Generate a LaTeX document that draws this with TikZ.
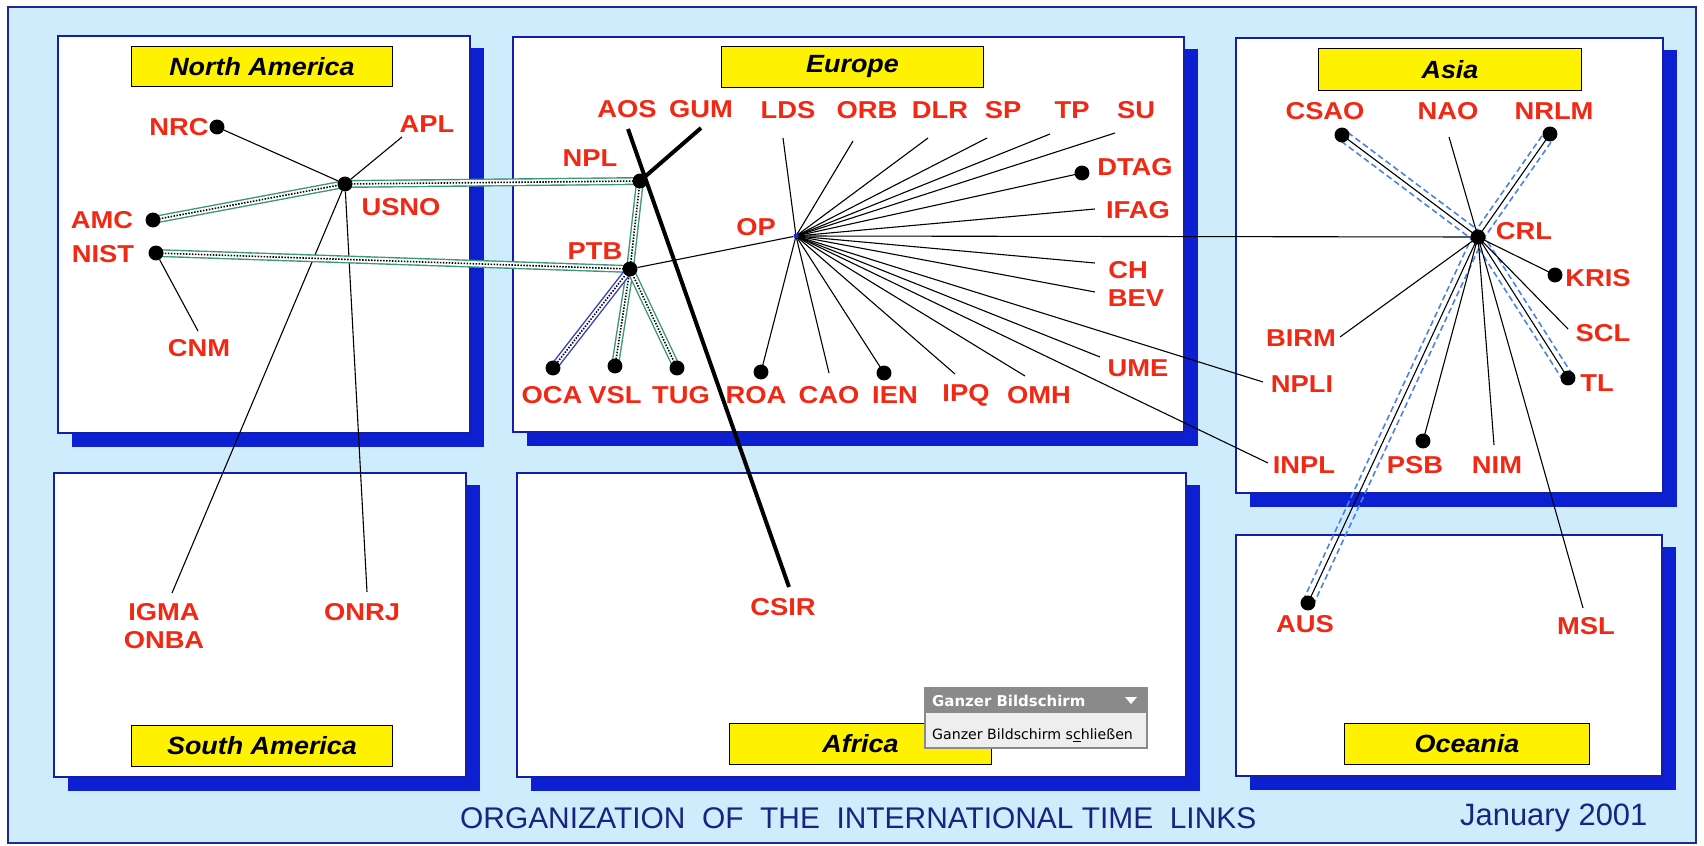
\documentclass[tikz,border=0pt]{standalone}
\usepackage{fontspec}
\setmainfont{Liberation Sans}
\newfontfamily\labf[FakeStretch=1.12]{Liberation Sans}
\newfontfamily\regf[FakeStretch=1.08]{Liberation Sans}
\newfontfamily\popf{DejaVu Sans}
\usetikzlibrary{calc}
\pgfdeclarelayer{boxes}
\pgfdeclarelayer{links}
\pgfdeclarelayer{top}
\pgfsetlayers{boxes,links,main,top}
\definecolor{bglight}{RGB}{207,236,252}
\definecolor{framecol}{RGB}{30,40,150}
\definecolor{boxblue}{RGB}{20,30,170}
\definecolor{shadowblue}{RGB}{12,32,210}
\definecolor{labred}{RGB}{240,40,20}
\definecolor{linkgreen}{RGB}{60,150,120}
\definecolor{linkblue}{RGB}{50,60,200}
\definecolor{dashblue}{RGB}{80,130,230}
\definecolor{titleblue}{RGB}{25,35,130}
\definecolor{opblue}{RGB}{20,40,230}
\definecolor{popgray}{RGB}{138,138,138}
\definecolor{popbody}{RGB}{238,238,238}
\newcommand\regionbox[4]{%
  \fill[shadowblue] (#1+14,#2+12) rectangle (#3+14,#4+14);
  \draw[box] (#1,#2) rectangle (#3,#4);}
\tikzset{
  box/.style={fill=white, draw=boxblue, line width=2.2pt},
  region/.style={fill=yellow, draw=black, line width=1pt, inner sep=0pt,
    font=\regf\bfseries\itshape\fontsize{25}{27}\selectfont},
  lab/.style={text=labred, inner sep=0pt, align=center,
    font=\labf\bfseries\fontsize{24.5}{28}\selectfont},
  dot/.style={circle, fill=black, inner sep=0pt, minimum size=15pt},
  thinlink/.style={draw=black, line width=1.1pt},
  thicklink/.style={draw=black, line width=4pt},
  glink/.style={draw=linkgreen, line width=1.4pt, double=white, double distance=5.2pt},
  blink/.style={draw=linkblue, line width=1.4pt, double=white, double distance=5.2pt},
  dotline/.style={draw=black, line width=1.6pt, dash pattern=on 1.5pt off 1.5pt},
  bdash/.style={draw=dashblue, line width=1.6pt, dash pattern=on 6pt off 3.5pt},
}
\begin{document}
\begin{tikzpicture}[x=1bp,y=-1bp]
\useasboundingbox (0,0) rectangle (1704,846);
\begin{pgfonlayer}{boxes}
\fill[white] (0,0) rectangle (1704,846);
\draw[fill=bglight, draw=framecol, line width=2pt] (8,7) rectangle (1696,843);
\regionbox{58}{36}{470}{433}
\regionbox{54}{473}{466}{777}
\regionbox{513}{37}{1184}{432}
\regionbox{517}{473}{1186}{777}
\regionbox{1236}{38}{1663}{493}
\regionbox{1236}{535}{1662}{776}
\node[region, minimum width=262, minimum height=41] (na-title) at (262,66.5) {North America};
\node[region, minimum width=262, minimum height=42] (sa-title) at (262,746) {South America};
\node[region, minimum width=263, minimum height=42] (eu-title) at (852.5,67) {Europe};
\node[region, minimum width=263, minimum height=42] (af-title) at (860.5,744) {Africa};
\node[region, minimum width=264, minimum height=43] (as-title) at (1450,69.5) {Asia};
\node[region, minimum width=246, minimum height=42] (oc-title) at (1467,744) {Oceania};
\end{pgfonlayer}

% ---------- North America ----------
\node[dot] (nrc) at (217,127) {};
\node[lab] (nrc-l) at (179,127) {NRC};
\node[dot] (usno) at (345,184) {};
\node[lab] (usno-l) at (401,207) {USNO};
\node[dot] (amc) at (153,220) {};
\node[lab] (amc-l) at (102,220) {AMC};
\node[dot] (nist) at (156,253) {};
\node[lab] (nist-l) at (103,254) {NIST};
\node[lab] (apl) at (427,124) {APL};
\coordinate (apl-e) at (402,137);
\node[lab] (cnm) at (199,348) {CNM};
\coordinate (cnm-e) at (198,331);
% ---------- South America ----------
\node[lab] (igma) at (164,626) {IGMA\\ONBA};
\coordinate (igma-e) at (172,593);
\node[lab] (onrj) at (362,612) {ONRJ};
\coordinate (onrj-e) at (367,592);
% ---------- Europe ----------
\node[lab] (aos) at (627,109) {AOS};
\coordinate (aos-e) at (628,129);
\node[lab] (gum) at (701,109) {GUM};
\coordinate (gum-e) at (701,128);
\node[lab] (lds) at (788,110) {LDS};
\coordinate (lds-e) at (783,138);
\node[lab] (orb) at (867,110) {ORB};
\coordinate (orb-e) at (853,141);
\node[lab] (dlr) at (940,110) {DLR};
\coordinate (dlr-e) at (928,138);
\node[lab] (sp) at (1003,110) {SP};
\coordinate (sp-e) at (987,138);
\node[lab] (tp) at (1072,110) {TP};
\coordinate (tp-e) at (1050,134);
\node[lab] (su) at (1136,110) {SU};
\coordinate (su-e) at (1115,133);
\node[dot] (npl) at (640,181) {};
\node[lab] (npl-l) at (590,158) {NPL};
\node[dot] (ptb) at (630,269) {};
\node[lab] (ptb-l) at (595,251) {PTB};
\node[circle, fill=opblue, inner sep=0pt, minimum size=5pt] (op) at (796,236) {};
\node[lab] (op-l) at (756,227) {OP};
\node[dot] (dtag) at (1082,173) {};
\node[lab] (dtag-l) at (1135,167) {DTAG};
\node[lab] (ifag) at (1138,210) {IFAG};
\coordinate (ifag-e) at (1095,209);
\node[lab] (ch) at (1128,270) {CH};
\coordinate (ch-e) at (1095,263);
\node[lab] (bev) at (1136,298) {BEV};
\coordinate (bev-e) at (1095,292);
\node[lab] (ume) at (1138,368) {UME};
\coordinate (ume-e) at (1100,357);
\node[dot] (oca) at (553,368) {};
\node[lab] (oca-l) at (552,395) {OCA};
\node[dot] (vsl) at (615,366) {};
\node[lab] (vsl-l) at (615,395) {VSL};
\node[dot] (tug) at (677,368) {};
\node[lab] (tug-l) at (681,395) {TUG};
\node[dot] (roa) at (761,372) {};
\node[lab] (roa-l) at (756,395) {ROA};
\node[lab] (cao) at (829,395) {CAO};
\coordinate (cao-e) at (829,373);
\node[dot] (ien) at (884,373) {};
\node[lab] (ien-l) at (895,395) {IEN};
\node[lab] (ipq) at (966,395) {IPQ};
\coordinate (ipq-e) at (955,374);
\node[lab] (omh) at (1039,395) {OMH};
\coordinate (omh-e) at (1025,376);
% ---------- Africa ----------
\node[lab] (csir) at (783,607) {CSIR};
\coordinate (csir-e) at (789,587);
% ---------- Asia ----------
\node[dot] (csao) at (1342,135) {};
\node[lab] (csao-l) at (1325,111) {CSAO};
\node[lab] (nao) at (1448,111) {NAO};
\coordinate (nao-e) at (1449,137);
\node[dot] (nrlm) at (1550,134) {};
\node[lab] (nrlm-l) at (1554,111) {NRLM};
\node[dot] (crl) at (1478,237) {};
\node[lab] (crl-l) at (1524,231) {CRL};
\node[dot] (kris) at (1555,275) {};
\node[lab] (kris-l) at (1598,278) {KRIS};
\node[lab] (scl) at (1603,333) {SCL};
\coordinate (scl-e) at (1568,329);
\node[dot] (tl) at (1568,378) {};
\node[lab] (tl-l) at (1597,383) {TL};
\node[lab] (birm) at (1301,338) {BIRM};
\coordinate (birm-e) at (1340,337);
\node[lab] (npli) at (1302,384) {NPLI};
\coordinate (npli-e) at (1263,382);
\node[lab] (inpl) at (1304,465) {INPL};
\coordinate (inpl-e) at (1268,463);
\node[dot] (psb) at (1423,441) {};
\node[lab] (psb-l) at (1415,465) {PSB};
\node[lab] (nim) at (1497,465) {NIM};
\coordinate (nim-e) at (1494,445);
% ---------- Oceania ----------
\node[dot] (aus) at (1308,603) {};
\node[lab] (aus-l) at (1305,624) {AUS};
\node[lab] (msl) at (1586,626) {MSL};
\coordinate (msl-e) at (1583,608);
% ---------- footer ----------
\node[anchor=west, inner sep=0pt, text=titleblue, font=\fontsize{30}{32}\selectfont] (title) at (460,818)
  {ORGANIZATION\ \ OF\ \ THE\ \ INTERNATIONAL TIME\ \ LINKS};
\node[anchor=west, inner sep=0pt, text=titleblue, font=\fontsize{31}{33}\selectfont] (date) at (1460,818)
  {January 2001};

% ---------- connectors ----------
\begin{pgfonlayer}{links}
\foreach \a/\b in {nrc/usno, usno/apl-e, usno/igma-e, usno/onrj-e, nist/cnm-e, ptb/op}
  \draw[thinlink] (\a) -- (\b);
\foreach \a/\b in {amc/usno, usno/npl, nist/ptb, npl/ptb, ptb/vsl, ptb/tug}
  \draw[glink] (\a.center) -- (\b.center);
\draw[blink] (ptb.center) -- (oca.center);
\foreach \a/\b in {amc/usno, usno/npl, nist/ptb, npl/ptb, ptb/vsl, ptb/tug, ptb/oca}
  \draw[dotline] (\a.center) -- (\b.center);
\draw[thicklink] (aos-e) -- (csir-e);
\draw[thicklink] (npl.center) -- (gum-e);
\foreach \b in {lds-e, orb-e, dlr-e, sp-e, tp-e, su-e, dtag.center, ifag-e, ch-e, bev-e, ume-e,
  npli-e, inpl-e, roa.center, cao-e, ien.center, ipq-e, omh-e, crl.center}
  \draw[thinlink] (op.center) -- (\b);
\foreach \a in {csao, nrlm, tl, aus} {
  \draw[bdash] ($(crl.center)!5.5bp!90:(\a.center)$) -- ($(\a.center)!5.5bp!-90:(crl.center)$);
  \draw[bdash] ($(crl.center)!5.5bp!-90:(\a.center)$) -- ($(\a.center)!5.5bp!90:(crl.center)$);
  \draw[thinlink] (crl.center) -- (\a.center);
}
\foreach \b in {nao-e, kris.center, scl-e, birm-e, psb.center, nim-e, msl-e}
  \draw[thinlink] (crl.center) -- (\b);
\end{pgfonlayer}

% ---------- popup ----------
\begin{pgfonlayer}{top}
\draw[fill=popbody, draw=popgray, line width=1.5pt] (925,688) rectangle (1147,748);
\fill[popgray] (926,689) rectangle (1146,713);
\node[anchor=west, inner sep=0pt, text=white, font=\popf\bfseries\fontsize{15}{17}\selectfont] (pop-head) at (932,701) {Ganzer Bildschirm};
\fill[white] (1125,697) -- (1137,697) -- (1131,704) -- cycle;
\node[anchor=west, inner sep=0pt, text=black, font=\popf\fontsize{14.2}{16}\selectfont] (pop-item) at (932,735) {Ganzer Bildschirm s\underline{c}hlie\ss en};
\end{pgfonlayer}
\end{tikzpicture}
\end{document}
